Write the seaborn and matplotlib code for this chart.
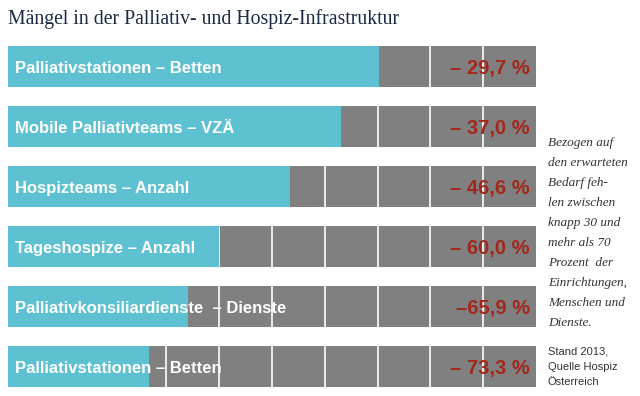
import pandas as pd
import matplotlib
matplotlib.use("Agg")
import matplotlib.pyplot as plt
import seaborn as sns

# data
categories = ["Palliativstationen – Betten", "Mobile Palliativteams – VZÄ",
              "Hospizteams – Anzahl", "Tageshospize – Anzahl",
              "Palliativkonsiliardienste  – Dienste", "Palliativstationen – Betten"]
shortfall = [29.7, 37.0, 46.6, 60.0, 65.9, 73.3]
pct_labels = ["– 29,7 %", "– 37,0 %", "– 46,6 %", "– 60,0 %", "–65,9 %", "– 73,3 %"]

df = pd.DataFrame({"row": [f"r{i}" for i in range(len(categories))],
                   "label": categories,
                   "fehlt": shortfall})
df["vorhanden"] = 100 - df["fehlt"]
df["bedarf"] = 100.0

sns.set_style("white")
plt.rcParams["font.family"] = ["Liberation Sans", "DejaVu Sans"]

BLUE = "#5ec1d1"
GRAY = "#808080"
RED = "#a3281c"

fig = plt.figure(figsize=(6.4, 3.96), dpi=100)
ax = fig.add_axes([8 / 640, 9 / 396, 528 / 640, 341 / 396])

# full bar = expected need (gray), blue = what exists
sns.barplot(data=df, x="bedarf", y="row", color=GRAY, width=1.0, ax=ax,
            saturation=1, zorder=1)
for v in range(10, 100, 10):
    ax.axvline(v, color="white", lw=1.2, zorder=2)
sns.barplot(data=df, x="vorhanden", y="row", color=BLUE, width=1.0, ax=ax,
            saturation=1, zorder=3)

# shrink bars to the row height seen in the picture
for p in ax.patches:
    p.set_height(41 / 60)
    p.set_y(p.get_y() + (1 - 41 / 60) / 2)
    p.set_linewidth(0)

for i, (lab, pl) in enumerate(zip(df["label"], pct_labels)):
    ax.text(1.3, i + 0.03, lab, color="white", fontsize=12, fontweight="bold",
            va="center", ha="left", zorder=5)
    ax.text(98.8, i + 0.03, pl, color=RED, fontsize=14.5, fontweight="bold",
            va="center", ha="right", zorder=5)

ax.set_xlim(0, 100)
ax.set_ylim(5 + 41 / 120, -41 / 120)
ax.set_xlabel("")
ax.set_ylabel("")
ax.set_xticks([])
ax.set_yticks([])
sns.despine(ax=ax, left=True, bottom=True)

fig.text(8 / 640, 1 - 19 / 396, "Mängel in der Palliativ- und Hospiz-Infrastruktur",
         family=["Liberation Serif", "DejaVu Serif"], fontsize=14.2,
         color="#1c2a45", va="center", ha="left")

side = ["Bezogen auf", "den erwarteten", "Bedarf feh-", "len zwischen",
        "knapp 30 und", "mehr als 70", "Prozent  der", "Einrichtungen,",
        "Menschen und", "Dienste."]
for k, line in enumerate(side):
    fig.text(548 / 640, 1 - (143 + 20 * k) / 396, line,
             family=["Liberation Serif", "DejaVu Serif"], style="italic",
             fontsize=9.5, color="#333333", va="center", ha="left")

note = ["Stand 2013,", "Quelle Hospiz", "Österreich"]
for k, line in enumerate(note):
    fig.text(548 / 640, 1 - (352 + 15 * k) / 396, line,
             family=["Liberation Sans", "DejaVu Sans"], fontsize=8,
             color="#333333", va="center", ha="left")

fig.savefig("out.png", dpi=100)
